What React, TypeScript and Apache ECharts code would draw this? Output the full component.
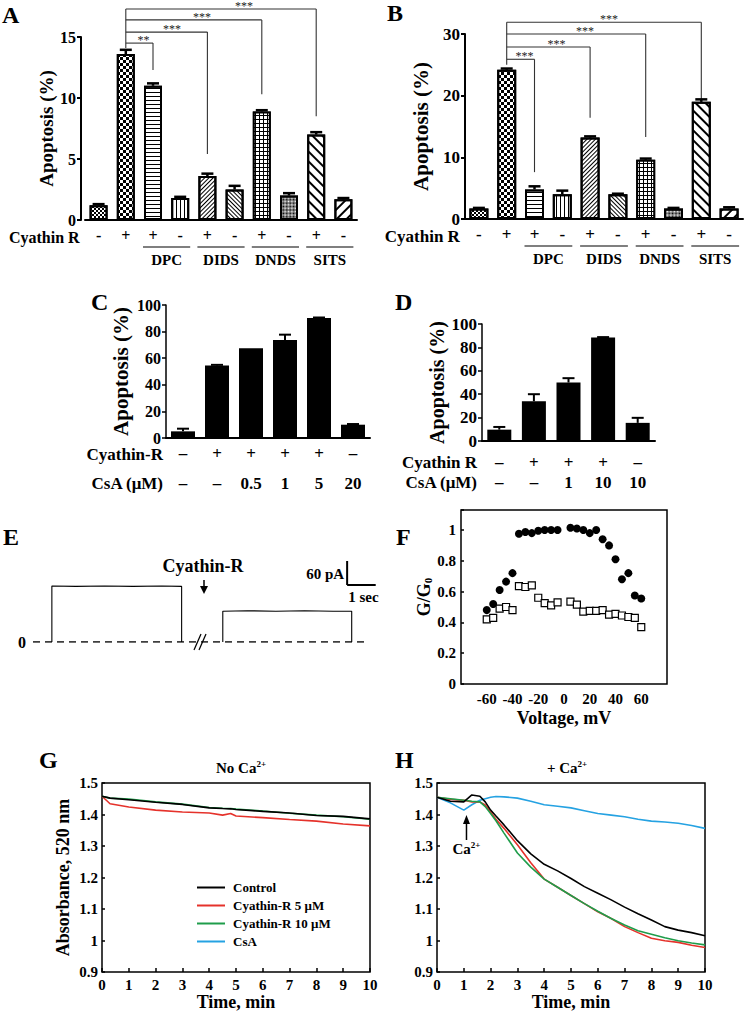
import React, { useEffect, useRef } from "react";
import * as echarts from "echarts";

const SERIF = '"Liberation Serif", "Times New Roman", Times, serif';

// ---------- Panel A / B ----------
const AB_CATEGORIES = ["Control", "Cyathin R", "Cyathin R + DPC", "DPC", "Cyathin R + DIDS", "DIDS", "Cyathin R + DNDS", "DNDS", "Cyathin R + SITS", "SITS"];
const AB_CYATHIN_ROW = ["-", "+", "+", "-", "+", "-", "+", "-", "+", "-"];
const AB_GROUP_LABELS = ["DPC", "DIDS", "DNDS", "SITS"];
const A_VALUES = [1.2, 13.6, 11.0, 1.8, 3.6, 2.5, 8.9, 2.0, 7.0, 1.7];
const A_ERRORS = [0.1, 0.35, 0.2, 0.1, 0.2, 0.3, 0.1, 0.2, 0.2, 0.1];
const A_Y_TICKS = [0, 5, 10, 15];
const B_VALUES = [1.7, 24.2, 4.8, 4.0, 13.2, 4.0, 9.6, 1.7, 19.0, 1.7];
const B_ERRORS = [0.1, 0.2, 0.5, 0.6, 0.2, 0.1, 0.2, 0.1, 0.4, 0.2];
const B_Y_TICKS = [0, 10, 20, 30];

// significance brackets (compared with index 1)
const A_SIG_TARGETS = [8, 6, 4, 2];
const A_SIG_STARS = ["***", "***", "***", "**"];
const A_SIG_LEVELS = [17.3, 16.4, 15.4, 14.5];
const A_SIG_ENDS = [8.5, 10.3, 5.4, 12.3];
const A_SIG_STAR_AT = [5.35, 3.8, 2.7, 1.65];
const A_SIG_BASE = 14.1;
const B_SIG_TARGETS = [8, 6, 4, 2];
const B_SIG_STARS = ["***", "***", "***", "***"];
const B_SIG_LEVELS = [31.9, 30.0, 27.9, 25.9];
const B_SIG_ENDS = [13.8, 13.3, 16.4, 7.6];
const B_SIG_STAR_AT = [4.68, 3.82, 2.79, 1.64];
const B_SIG_BASE = 25.0;

// ---------- Panel C / D ----------
const C_CYATHIN_ROW = ["–", "+", "+", "+", "+", "–"];
const C_CSA_ROW = ["–", "–", "0.5", "1", "5", "20"];
const C_CATEGORIES = C_CYATHIN_ROW.map((c, i) => c + " / " + C_CSA_ROW[i]);
const C_VALUES = [5, 54.5, 67.5, 73.7, 90.3, 10];
const C_ERRORS = [2, 0.5, 0, 4, 0.3, 0.5];
const D_CYATHIN_ROW = ["–", "+", "+", "+", "–"];
const D_CSA_ROW = ["–", "–", "1", "10", "10"];
const D_CATEGORIES = D_CYATHIN_ROW.map((c, i) => c + " / " + D_CSA_ROW[i]);
const D_VALUES = [9.7, 34, 50, 88.5, 15.5];
const D_ERRORS = [2.3, 6, 3.7, 0.3, 4.3];
const CD_Y_TICKS = [0, 20, 40, 60, 80, 100];

// ---------- Panel E (current trace, s / pA) ----------
const E_BASELINE = [[0, 0], [11.72, 0]];
const E_PULSE_BEFORE = [[0.66, 0], [0.66, 140], [1.5, 139], [2.5, 140], [3.5, 139], [4.5, 140], [5.2, 139], [5.2, 0]];
const E_PULSE_AFTER = [[6.64, 0], [6.64, 77], [7.5, 78], [8.5, 77], [9.5, 78], [10.5, 77], [11.15, 77], [11.15, 0]];
const E_SCALE = { t: 10.99, i: 142.5, dt: 1, di: 60 };

// ---------- Panel F ----------
const F_VOLTAGE = [-60, -55, -50, -45, -40, -35, -30, -25, -20, -15, -10, -5, 5, 10, 15, 20, 25, 30, 35, 40, 45, 50, 55, 60];
const F_CONTROL = [0.48, 0.52, 0.61, 0.665, 0.72, 0.976, 0.987, 0.98, 0.995, 1.0, 1.0, 1.0, 1.015, 1.01, 1.0, 0.98, 1.0, 0.94, 0.9, 0.81, 0.68, 0.72, 0.575, 0.555];
const F_CYATHIN = [0.42, 0.43, 0.49, 0.5, 0.48, 0.635, 0.63, 0.64, 0.56, 0.525, 0.51, 0.53, 0.535, 0.515, 0.47, 0.475, 0.475, 0.48, 0.45, 0.455, 0.445, 0.435, 0.43, 0.37];
const F_X_TICKS = [-60, -40, -20, 0, 20, 40, 60];
const F_Y_TICKS = [0, 0.2, 0.4, 0.6, 0.8, 1];

// ---------- Panel G ----------
const SERIES_NAMES = ["Control", "Cyathin-R 5 μM", "Cyathin-R 10 μM", "CsA"];
const SERIES_COLORS = ["#000000", "#e5322b", "#1f9d4b", "#25a2e2"];
const G_TIME = [0, 0.3, 1, 2, 3, 4, 4.5, 4.8, 5, 6, 7, 8, 9, 10];
const G_CONTROL = [1.458, 1.452, 1.447, 1.439, 1.432, 1.421, 1.419, 1.418, 1.416, 1.41, 1.405, 1.397, 1.394, 1.386];
const G_CYATHIN5 = [1.458, 1.434, 1.424, 1.414, 1.408, 1.405, 1.398, 1.403, 1.395, 1.39, 1.384, 1.379, 1.37, 1.364];
const G_CYATHIN10 = [1.458, 1.452, 1.449, 1.44, 1.433, 1.422, 1.42, 1.419, 1.417, 1.411, 1.404, 1.398, 1.393, 1.385];
const GH_X_TICKS = [0, 1, 2, 3, 4, 5, 6, 7, 8, 9, 10];
const GH_Y_TICKS = [0.9, 1.0, 1.1, 1.2, 1.3, 1.4, 1.5];

// ---------- Panel H ----------
const H_TIME = [0, 0.5, 1, 1.3, 1.6, 1.8, 2, 2.2, 2.5, 3, 3.5, 4, 4.5, 5, 5.5, 6, 6.5, 7, 7.5, 8, 8.5, 9, 9.5, 10];
const H_CONTROL = [1.455, 1.442, 1.44, 1.462, 1.458, 1.44, 1.414, 1.395, 1.367, 1.317, 1.275, 1.242, 1.221, 1.197, 1.171, 1.15, 1.129, 1.106, 1.085, 1.065, 1.044, 1.033, 1.025, 1.015];
const H_CYATHIN5 = [1.455, 1.448, 1.445, 1.44, 1.44, 1.43, 1.408, 1.385, 1.356, 1.304, 1.247, 1.195, 1.169, 1.143, 1.117, 1.091, 1.07, 1.044, 1.025, 1.007, 0.999, 0.994, 0.985, 0.978];
const H_CYATHIN10 = [1.455, 1.45, 1.445, 1.442, 1.44, 1.425, 1.403, 1.38, 1.341, 1.278, 1.233, 1.195, 1.169, 1.143, 1.117, 1.093, 1.07, 1.049, 1.031, 1.02, 1.009, 0.999, 0.992, 0.986];
const H_CSA = [1.455, 1.437, 1.414, 1.431, 1.445, 1.45, 1.455, 1.457, 1.456, 1.452, 1.442, 1.431, 1.426, 1.421, 1.412, 1.403, 1.398, 1.393, 1.385, 1.379, 1.376, 1.372, 1.365, 1.356];
const H_CA_ADDED_AT = 1.1;

// ---------- styles ----------
const Q = Math.PI / 4;
const BAR_DECALS: any[] = [
  { fill: "#fff", decal: { symbol: "rect", symbolSize: 1, color: "#000", dashArrayX: [[2, 2], [0, 2, 2, 0]], dashArrayY: [2, 0] } },
  { fill: "#fff", decal: { symbol: "rect", symbolSize: 1, color: "#000", dashArrayX: [[3, 3], [0, 3, 3, 0]], dashArrayY: [3, 0] } },
  { fill: "#fff", decal: { symbol: "rect", symbolSize: 1, color: "#000", dashArrayX: [1, 0], dashArrayY: [1, 3] } },
  { fill: "#fff", decal: { symbol: "rect", symbolSize: 1, color: "#000", dashArrayX: [1, 3], dashArrayY: [1, 0] } },
  { fill: "#fff", decal: { symbol: "rect", symbolSize: 1, color: "#000", dashArrayX: [1, 0], dashArrayY: [1, 2], rotation: -Q } },
  { fill: "#fff", decal: { symbol: "rect", symbolSize: 1, color: "#000", dashArrayX: [1, 0], dashArrayY: [1, 2], rotation: Q } },
  { fill: "#000", decal: { symbol: "rect", symbolSize: 1, color: "#fff", dashArrayX: [3, 1], dashArrayY: [3, 1] } },
  { fill: "#fff", decal: { symbol: "rect", symbolSize: 1, color: "#000", dashArrayX: [[1, 1], [0, 1, 1, 0]], dashArrayY: [1, 0], rotation: Q } },
  { fill: "#fff", decal: { symbol: "rect", symbolSize: 1, color: "#000", dashArrayX: [1, 0], dashArrayY: [1.5, 4.5], rotation: Q } },
  { fill: "#fff", decal: { symbol: "rect", symbolSize: 1, color: "#000", dashArrayX: [1, 0], dashArrayY: [1.5, 4.5], rotation: -Q } },
];

function tl(size: number, extra: any = {}) {
  return { fontFamily: SERIF, fontWeight: "bold", fontSize: size, color: "#000", ...extra };
}

function barX(k: number, cats: string[], fmt: (i: number) => string, size: number, margin: number, lineHeight?: number) {
  return {
    type: "category",
    gridIndex: k,
    data: cats,
    axisLine: { show: true, onZero: false, lineStyle: { color: "#000", width: 2 } },
    axisTick: { show: false },
    axisLabel: { interval: 0, margin, formatter: (_v: any, i: number) => fmt(i), ...tl(size), lineHeight },
    splitLine: { show: false },
  };
}

function barY(k: number, ticks: number[], name: string, nameSize: number, nameGap: number, labelSize: number, offset = 0, lw = 2) {
  return {
    type: "value",
    gridIndex: k,
    min: ticks[0],
    max: ticks[ticks.length - 1],
    interval: ticks[1] - ticks[0],
    offset,
    axisLine: { show: true, onZero: false, lineStyle: { color: "#000", width: lw } },
    axisTick: { show: true, length: 4, lineStyle: { color: "#000", width: lw } },
    axisLabel: { margin: 5, ...tl(labelSize) },
    splitLine: { show: false },
    name,
    nameLocation: "middle",
    nameGap,
    nameTextStyle: tl(nameSize),
  };
}

function errorBars(k: number, values: number[], errors: number[], cap: number, width: number) {
  return {
    type: "custom",
    xAxisIndex: k,
    yAxisIndex: k,
    z: 5,
    silent: true,
    encode: { x: 0, y: [1, 2] },
    data: values.map((v, i) => [i, v, v + errors[i]]),
    renderItem: (_p: any, api: any) => {
      const i = api.value(0);
      if (api.value(2) - api.value(1) <= 0) return { type: "group", children: [] };
      const lo = api.coord([i, api.value(1)]);
      const hi = api.coord([i, api.value(2)]);
      return {
        type: "group",
        children: [
          { type: "line", shape: { x1: lo[0], y1: lo[1], x2: hi[0], y2: hi[1] }, style: { stroke: "#000", lineWidth: width } },
          { type: "line", shape: { x1: hi[0] - cap, y1: hi[1], x2: hi[0] + cap, y2: hi[1] }, style: { stroke: "#000", lineWidth: width } },
        ],
      };
    },
  };
}

function pairs(xs: number[], ys: number[]) {
  return xs.map((x, i) => [x, ys[i]]);
}

function buildOption() {
  const boxGrid = { show: true, borderColor: "#000", borderWidth: 1.5, backgroundColor: "transparent" };
  const lineSeries = (k: number, name: string, data: number[][], color: string) => ({
    type: "line",
    name,
    xAxisIndex: k,
    yAxisIndex: k,
    data,
    symbol: "none",
    showSymbol: false,
    color,
    itemStyle: { color },
    lineStyle: { color, width: 1.6 },
    z: name === "Control" ? 4 : 3,
  });
  const ghX = (k: number) => ({
    type: "value",
    gridIndex: k,
    min: GH_X_TICKS[0],
    max: GH_X_TICKS[GH_X_TICKS.length - 1],
    interval: GH_X_TICKS[1] - GH_X_TICKS[0],
    axisLine: { show: false, onZero: false },
    axisTick: { show: true, inside: true, length: 4, lineStyle: { color: "#000", width: 1.5 } },
    axisLabel: { margin: 5, ...tl(15) },
    splitLine: { show: false },
    name: "Time, min",
    nameLocation: "middle",
    nameGap: 21,
    nameTextStyle: tl(18),
  });
  const ghY = (k: number, name: string) => ({
    type: "value",
    gridIndex: k,
    min: GH_Y_TICKS[0],
    max: GH_Y_TICKS[GH_Y_TICKS.length - 1],
    interval: 0.1,
    axisLine: { show: false, onZero: false },
    axisTick: { show: true, inside: true, length: 3, lineStyle: { color: "#000", width: 1.5 } },
    axisLabel: { margin: 4, ...tl(15) },
    splitLine: { show: false },
    name,
    nameLocation: "middle",
    nameGap: 30,
    nameTextStyle: tl(18),
  });

  return {
    animation: false,
    backgroundColor: "#fff",
    textStyle: { fontFamily: SERIF },
    grid: [
      { left: 85, top: 37, width: 272, height: 183 }, // A
      { left: 465, top: 34, width: 278, height: 185 }, // B
      { left: 166, top: 305, width: 204, height: 133 }, // C
      { left: 482, top: 324, width: 173, height: 117 }, // D
      { left: 33, top: 562, width: 343, height: 80 }, // E
      { left: 461, top: 510, width: 206, height: 174, ...boxGrid }, // F
      { left: 102, top: 783, width: 268, height: 190, ...boxGrid }, // G
      { left: 437, top: 783, width: 268, height: 190, ...boxGrid }, // H
    ],
    xAxis: [
      barX(0, AB_CATEGORIES, (i) => AB_CYATHIN_ROW[i], 16, 7),
      barX(1, AB_CATEGORIES, (i) => AB_CYATHIN_ROW[i], 17, 7),
      barX(2, C_CATEGORIES, (i) => C_CYATHIN_ROW[i] + "\n" + C_CSA_ROW[i], 17, 0, 30),
      barX(3, D_CATEGORIES, (i) => D_CYATHIN_ROW[i] + "\n" + D_CSA_ROW[i], 17, 11, 20),
      { type: "value", gridIndex: 4, min: 0, max: 12, show: false },
      {
        type: "value",
        gridIndex: 5,
        min: -80,
        max: 80,
        interval: F_X_TICKS[1] - F_X_TICKS[0],
        axisLine: { show: false, onZero: false },
        axisTick: { show: false },
        axisLabel: {
          margin: 7,
          ...tl(15),
          formatter: (v: number) => (F_X_TICKS.indexOf(v) >= 0 ? String(v) : ""),
        },
        splitLine: { show: false },
        name: "Voltage, mV",
        nameLocation: "middle",
        nameGap: 25,
        nameTextStyle: tl(18),
      },
      ghX(6),
      ghX(7),
    ],
    yAxis: [
      barY(0, A_Y_TICKS, "Apoptosis (%)", 19, 23, 16, 4),
      barY(1, B_Y_TICKS, "Apoptosis (%)", 21, 34, 17),
      barY(2, CD_Y_TICKS, "Apoptosis (%)", 21, 35, 16, 0, 1.5),
      barY(3, CD_Y_TICKS, "Apoptosis (%)", 20, 35, 17, 0, 1.5),
      { type: "value", gridIndex: 4, min: 0, max: 200, show: false },
      {
        type: "value",
        gridIndex: 5,
        min: 0,
        max: 1.13,
        interval: F_Y_TICKS[1] - F_Y_TICKS[0],
        axisLine: { show: false, onZero: false },
        axisTick: { show: true, inside: true, length: 3, lineStyle: { color: "#000", width: 1.5 } },
        axisLabel: {
          margin: 5,
          ...tl(15),
          formatter: (v: number) => {
            const hit = F_Y_TICKS.find((t) => Math.abs(t - v) < 1e-6);
            return hit === undefined ? "" : String(hit);
          },
        },
        splitLine: { show: false },
        name: "{m|G/G}{s|0}",
        nameLocation: "middle",
        nameGap: 27,
        nameTextStyle: {
          ...tl(18),
          rich: {
            m: tl(18),
            s: tl(11, { verticalAlign: "bottom", padding: [8, 0, 0, 0] }),
          },
        },
      },
      ghY(6, "Absorbance, 520 nm"),
      ghY(7, ""),
    ],
    legend: {
      data: SERIES_NAMES,
      orient: "vertical",
      left: 192,
      top: 876,
      itemWidth: 28,
      itemHeight: 14,
      itemGap: 5,
      icon: "path://M0,0H28V2H0Z",
      selectedMode: false,
      textStyle: tl(13, { padding: [0, 0, 0, 3] }),
    },
    series: [
      // A
      {
        type: "bar",
        xAxisIndex: 0,
        yAxisIndex: 0,
        barWidth: 18,
        data: A_VALUES.map((v, i) => ({
          value: v,
          itemStyle: { color: BAR_DECALS[i].fill, decal: BAR_DECALS[i].decal, borderColor: "#000", borderWidth: 2 },
        })),
      },
      errorBars(0, A_VALUES, A_ERRORS, 6, 2.5),
      // B
      {
        type: "bar",
        xAxisIndex: 1,
        yAxisIndex: 1,
        barWidth: 19,
        data: B_VALUES.map((v, i) => ({
          value: v,
          itemStyle: { color: BAR_DECALS[i].fill, decal: BAR_DECALS[i].decal, borderColor: "#000", borderWidth: 2 },
        })),
      },
      errorBars(1, B_VALUES, B_ERRORS, 6, 2.5),
      // C
      { type: "bar", xAxisIndex: 2, yAxisIndex: 2, barWidth: 24, data: C_VALUES, itemStyle: { color: "#000" } },
      errorBars(2, C_VALUES, C_ERRORS, 6, 2),
      // D
      { type: "bar", xAxisIndex: 3, yAxisIndex: 3, barWidth: 24, data: D_VALUES, itemStyle: { color: "#000" } },
      errorBars(3, D_VALUES, D_ERRORS, 6, 2),
      // E
      { type: "line", xAxisIndex: 4, yAxisIndex: 4, data: E_BASELINE, symbol: "none", lineStyle: { color: "#000", width: 1.6, type: [7, 5] } },
      { type: "line", xAxisIndex: 4, yAxisIndex: 4, data: E_PULSE_BEFORE, symbol: "none", lineStyle: { color: "#000", width: 1.1 } },
      { type: "line", xAxisIndex: 4, yAxisIndex: 4, data: E_PULSE_AFTER, symbol: "none", lineStyle: { color: "#000", width: 1.1 } },
      // F
      {
        type: "scatter",
        xAxisIndex: 5,
        yAxisIndex: 5,
        data: pairs(F_VOLTAGE, F_CONTROL),
        symbol: "circle",
        symbolSize: 8,
        itemStyle: { color: "#000", opacity: 1 },
      },
      {
        type: "scatter",
        xAxisIndex: 5,
        yAxisIndex: 5,
        data: pairs(F_VOLTAGE, F_CYATHIN),
        symbol: "rect",
        symbolSize: 7,
        itemStyle: { color: "#fff", borderColor: "#000", borderWidth: 1.2, opacity: 1 },
      },
      // G
      lineSeries(6, SERIES_NAMES[0], pairs(G_TIME, G_CONTROL), SERIES_COLORS[0]),
      lineSeries(6, SERIES_NAMES[1], pairs(G_TIME, G_CYATHIN5), SERIES_COLORS[1]),
      lineSeries(6, SERIES_NAMES[2], pairs(G_TIME, G_CYATHIN10), SERIES_COLORS[2]),
      // H
      lineSeries(7, SERIES_NAMES[3], pairs(H_TIME, H_CSA), SERIES_COLORS[3]),
      lineSeries(7, SERIES_NAMES[1], pairs(H_TIME, H_CYATHIN5), SERIES_COLORS[1]),
      lineSeries(7, SERIES_NAMES[2], pairs(H_TIME, H_CYATHIN10), SERIES_COLORS[2]),
      lineSeries(7, SERIES_NAMES[0], pairs(H_TIME, H_CONTROL), SERIES_COLORS[0]),
    ],
  };
}

function buildGraphics(chart: any) {
  const P = (k: number, x: number, y: number): number[] => chart.convertToPixel({ xAxisIndex: k, yAxisIndex: k }, [x, y]);
  const g: any[] = [];
  const T = (x: number, y: number, text: string, size: number, align = "center", extra: any = {}) =>
    g.push({
      type: "text",
      silent: true,
      x,
      y,
      style: {
        text,
        fontFamily: SERIF,
        fontWeight: "bold",
        fontSize: size,
        fill: "#000",
        align,
        textAlign: align,
        verticalAlign: "middle",
        textVerticalAlign: "middle",
        ...extra,
      },
    });
  const L = (x1: number, y1: number, x2: number, y2: number, w = 1.5, color = "#000") =>
    g.push({ type: "line", silent: true, shape: { x1, y1, x2, y2 }, style: { stroke: color, lineWidth: w } });

  // panel letters
  T(2, 15, "A", 24, "left");
  T(387, 13, "B", 24, "left");
  T(91, 302, "C", 24, "left");
  T(395, 302, "D", 24, "left");
  T(3, 537, "E", 24, "left");
  T(396, 537, "F", 24, "left");
  T(39, 760, "G", 24, "left");
  T(395, 760, "H", 24, "left");

  // A and B row labels, groups and brackets
  const abDecor = (k: number, rowSize: number, levels: number[], ends: number[], targets: number[], stars: string[], starAt: number[], base: number) => {
    const y0 = P(k, 0, 0)[1];
    const xFirst = P(k, 0, 0)[0];
    T(xFirst - 19, y0 + 17, "Cyathin R", rowSize, "right");
    AB_GROUP_LABELS.forEach((lab, gi) => {
      const x1 = P(k, 2 + 2 * gi, 0)[0] - 10;
      const x2 = P(k, 3 + 2 * gi, 0)[0] + 10;
      L(x1, y0 + 27, x2, y0 + 27, 1.2);
      T((x1 + x2) / 2, y0 + 40, lab, 15);
    });
    const ox = P(k, 1, 0)[0];
    const topY = P(k, 0, Math.max(...levels))[1];
    L(ox, P(k, 0, base)[1], ox, topY, 1.1, "#333");
    targets.forEach((t, j) => {
      const ly = P(k, 0, levels[j])[1];
      const tx = P(k, t, 0)[0];
      L(ox, ly, tx, ly, 1.1, "#333");
      L(tx, ly, tx, P(k, 0, ends[j])[1], 1.1, "#333");
      const f = starAt[j];
      const i0 = Math.floor(f);
      const a = P(k, i0, 0)[0];
      const b = P(k, i0 + 1, 0)[0];
      T(a + (b - a) * (f - i0), ly - 3, stars[j], 12, "center", { fontWeight: "normal", fill: "#222" });
    });
  };
  abDecor(0, 16, A_SIG_LEVELS, A_SIG_ENDS, A_SIG_TARGETS, A_SIG_STARS, A_SIG_STAR_AT, A_SIG_BASE);
  abDecor(1, 17, B_SIG_LEVELS, B_SIG_ENDS, B_SIG_TARGETS, B_SIG_STARS, B_SIG_STAR_AT, B_SIG_BASE);

  // C and D row titles
  const c0 = P(2, 0, 0)[1];
  T(163, c0 + 16, "Cyathin-R", 17, "right");
  T(163, c0 + 45, "CsA (μM)", 17, "right");
  const d0 = P(3, 0, 0)[1];
  T(477, d0 + 21, "Cyathin R", 17, "right");
  T(477, d0 + 41, "CsA (μM)", 17, "right");

  // E annotations
  const e0 = P(4, 0, 0);
  T(e0[0] - 11, e0[1], "0", 16);
  L(194, 650, 201, 634, 1.2);
  L(199, 650, 206, 634, 1.2);
  T(203, 566, "Cyathin-R", 18);
  L(204, 580, 204, 588, 1.5);
  g.push({ type: "polygon", silent: true, shape: { points: [[200, 586], [208, 586], [204, 594]] }, style: { fill: "#000" } });
  const sc = P(4, E_SCALE.t, E_SCALE.i);
  const scTop = P(4, E_SCALE.t, E_SCALE.i + E_SCALE.di);
  const scRight = P(4, E_SCALE.t + E_SCALE.dt, E_SCALE.i);
  L(sc[0], scTop[1], sc[0], sc[1], 2);
  L(sc[0], sc[1], scRight[0], sc[1], 2);
  T(sc[0] - 3, (sc[1] + scTop[1]) / 2 + 1, "60 pA", 15, "right");
  T(sc[0] + 1, sc[1] + 12, "1 sec", 15, "left");

  // G and H titles
  const rich = {
    a: { fontFamily: SERIF, fontWeight: "bold", fontSize: 15, fill: "#000", lineHeight: 18 },
    s: { fontFamily: SERIF, fontWeight: "bold", fontSize: 9, fill: "#000", verticalAlign: "top" },
  };
  T(241, 768, "{a|No Ca}{s|2+}", 15, "center", { rich });
  T(567, 768, "{a|+ Ca}{s|2+}", 15, "center", { rich });

  // Ca2+ arrow in H
  const ca = P(7, H_CA_ADDED_AT, 1.4);
  const ax = ca[0];
  L(ax, 840, ax, 822, 1.5);
  g.push({ type: "polygon", silent: true, shape: { points: [[ax - 3.5, 824], [ax + 3.5, 824], [ax, 815]] }, style: { fill: "#000" } });
  T(ax, 849, "{a|Ca}{s|2+}", 15, "center", { rich });

  return g;
}

export default function App() {
  const ref = useRef<HTMLDivElement>(null);
  useEffect(() => {
    const chart = echarts.init(ref.current as HTMLDivElement, undefined, { renderer: "svg", width: 745, height: 1012 });
    chart.setOption(buildOption() as any);
    chart.setOption({ graphic: buildGraphics(chart) } as any);
    return () => chart.dispose();
  }, []);
  return <div ref={ref} style={{ position: "absolute", left: 0, top: 0, width: 745, height: 1012, background: "#fff" }} />;
}
